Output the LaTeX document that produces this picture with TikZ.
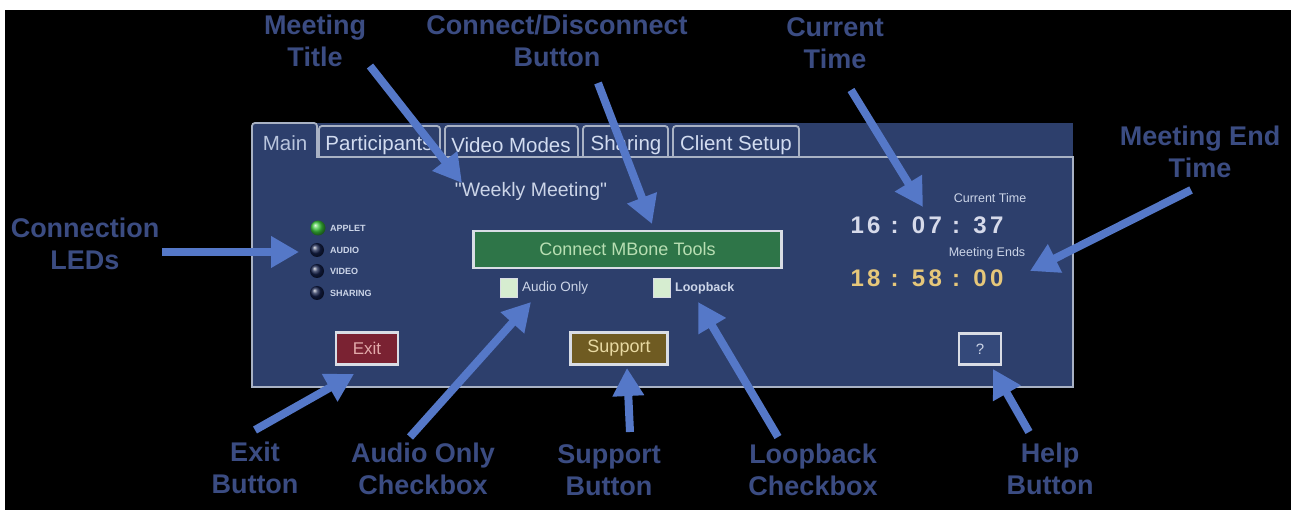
\documentclass[tikz,border=0pt]{standalone}
\usepackage{fontspec}
\setmainfont{Liberation Sans}
\newfontfamily\clockfont[LetterSpace=14]{Liberation Sans}
\newfontfamily\plainfont{Liberation Sans}
\usetikzlibrary{arrows.meta}
\definecolor{panelblue}{HTML}{2D3F6C}
\definecolor{tabgrey}{HTML}{A9B2C4}
\definecolor{tabtxt}{HTML}{D2DCF0}
\definecolor{maintxt}{HTML}{B9C5DD}
\definecolor{lblblue}{HTML}{3B4C82}
\definecolor{arrowblue}{HTML}{5578C8}
\definecolor{btnborder}{HTML}{D9DDE5}
\definecolor{connectgreen}{HTML}{2E7548}
\definecolor{connecttxt}{HTML}{B8DEB2}
\definecolor{exitred}{HTML}{7A2232}
\definecolor{exittxt}{HTML}{E2AAAA}
\definecolor{supportolive}{HTML}{6F5B22}
\definecolor{supporttxt}{HTML}{E8D9A2}
\definecolor{helpblue}{HTML}{34497A}
\definecolor{paneltxt}{HTML}{CCD5E8}
\definecolor{clockwhite}{HTML}{D6DAEA}
\definecolor{clockgold}{HTML}{E6C77A}
\definecolor{checkfill}{HTML}{D6EDD0}
\definecolor{ledgreen}{HTML}{3CC83C}
\definecolor{leddark}{HTML}{14204A}
\tikzset{
  lbl/.style={font=\fontsize{27}{32}\selectfont\bfseries, text=lblblue, align=center, inner sep=0pt},
  callout/.style={draw=arrowblue, line width=8pt, -{Triangle[width=30pt,length=28pt]}},
  tabedge/.style={draw=tabgrey, line width=1.8pt, rounded corners=3pt},
  tabtext/.style={font=\fontsize{20.5}{24}\selectfont, text=tabtxt, inner sep=0pt},
  ledtext/.style={font=\fontsize{9}{10}\selectfont\bfseries, text=paneltxt, inner sep=0pt, anchor=west},
  smalltext/.style={font=\fontsize{12.5}{14}\selectfont, text=paneltxt, inner sep=0pt},
  uibutton/.style={draw=btnborder, line width=2.2pt, inner sep=0pt},
  checkbox/.style={draw=btnborder, line width=1pt, fill=checkfill, minimum width=17pt, minimum height=19pt, inner sep=0pt},
  clock/.style={font=\clockfont\fontsize{24}{26}\selectfont\bfseries, inner sep=0pt}
}
\begin{document}
\begin{tikzpicture}[x=1pt,y=-1pt]
\useasboundingbox (0,0) rectangle (1291,510);
\fill[white] (0,0) rectangle (1291,510);
\fill[black] (5,10) rectangle (1291,510);

% panel
\fill[panelblue] (252,123) rectangle (1073,387);
\draw[draw=tabgrey, line width=1.8pt] (252,387) [rounded corners=3pt] -- (252,123) -- (317,123) [sharp corners] -- (317,157) -- (1073,157) -- (1073,387) -- cycle;
\draw[tabedge] (319,157) -- (319,126) -- (440,126) -- (440,157);
\draw[tabedge] (445,157) -- (445,126) -- (578,126) -- (578,157);
\draw[tabedge] (583,157) -- (583,126) -- (668,126) -- (668,157);
\draw[tabedge] (673,157) -- (673,126) -- (799,126) -- (799,157);

\node[tabtext, text=maintxt] (tabMain) at (285,143) {Main};
\node[tabtext] (tabPart) at (379,145) {Participants};
\node[tabtext] (tabVideo) at (511,145) {Video Modes};
\node[tabtext] (tabShare) at (626,145) {Sharing};
\node[tabtext] (tabClient) at (736,145) {Client Setup};

% meeting title
\node[font=\plainfont\fontsize{19.5}{22}\selectfont, text=paneltxt, inner sep=0pt] (title) at (531,191) {"Weekly Meeting"};

% LEDs
\shade[ball color=ledgreen] (318,228) circle (7.5);
\shade[ball color=leddark] (317,250) circle (7);
\shade[ball color=leddark] (317,271) circle (7);
\shade[ball color=leddark] (317,293) circle (7);
\node[ledtext] (ledApplet) at (330,228) {APPLET};
\node[ledtext] (ledAudio) at (330,250) {AUDIO};
\node[ledtext] (ledVideo) at (330,271) {VIDEO};
\node[ledtext] (ledShare) at (330,293) {SHARING};

% connect button
\node[uibutton, fill=connectgreen, minimum width=308pt, minimum height=37pt, font=\fontsize{18}{20}\selectfont, text=connecttxt] (connect) at (627.5,249.5) {Connect MBone Tools};

% checkboxes
\node[checkbox] (cbAudio) at (509,288) {};
\node[font=\fontsize{13.5}{15}\selectfont, text=paneltxt, inner sep=0pt, anchor=west] (cbAudioTxt) at (522,288) {Audio Only};
\node[checkbox] (cbLoop) at (662,288) {};
\node[font=\fontsize{12.5}{15}\selectfont\bfseries, text=paneltxt, inner sep=0pt, anchor=west] (cbLoopTxt) at (675,288) {Loopback};

% clocks
\node[smalltext] (curLbl) at (990,198) {Current Time};
\node[clock, text=clockwhite] (curClock) at (927,225) {16 : 07 : 37};
\node[smalltext] (endLbl) at (987,253) {Meeting Ends};
\node[clock, text=clockgold] (endClock) at (927,278) {18 : 58 : 00};

% bottom buttons
\node[uibutton, fill=exitred, minimum width=62pt, minimum height=32pt, font=\fontsize{17}{19}\selectfont, text=exittxt] (exit) at (367,348.5) {Exit};
\node[uibutton, fill=supportolive, minimum width=97pt, minimum height=32pt, font=\fontsize{18}{20}\selectfont, text=supporttxt] (support) at (619,348.5) {Support};
\node[uibutton, fill=helpblue, minimum width=42pt, minimum height=31pt, font=\fontsize{15}{17}\selectfont, text=paneltxt] (help) at (980,349) {?};

% callout labels
\node[lbl] (lTitle) at (315,41) {Meeting\\Title};
\node[lbl] (lConnect) at (557,41) {Connect/Disconnect\\Button};
\node[lbl] (lCurrent) at (835,43) {Current\\Time};
\node[lbl] (lEnd) at (1200,152) {Meeting End\\Time};
\node[lbl] (lLeds) at (85,244) {Connection\\LEDs};
\node[lbl] (lExit) at (255,468) {Exit\\Button};
\node[lbl] (lAudio) at (423,469) {Audio Only\\Checkbox};
\node[lbl] (lSupport) at (609,470) {Support\\Button};
\node[lbl] (lLoop) at (813,470) {Loopback\\Checkbox};
\node[lbl] (lHelp) at (1050,469) {Help\\Button};

% arrow ends
\coordinate (aTitleS) at (370,66);   \coordinate (aTitleE) at (462,183);
\coordinate (aConnS) at (598,83);    \coordinate (aConnE) at (652,224);
\coordinate (aCurS) at (851,90);     \coordinate (aCurE) at (923,207);
\coordinate (aEndS) at (1191,190);   \coordinate (aEndE) at (1030,271);
\coordinate (aLedS) at (162,252);    \coordinate (aLedE) at (299,252);
\coordinate (aExitS) at (255,430);   \coordinate (aExitE) at (354,374);
\coordinate (aAudS) at (410,437);    \coordinate (aAudE) at (531,302);
\coordinate (aSupS) at (630,432);    \coordinate (aSupE) at (627,368);
\coordinate (aLoopS) at (778,437);   \coordinate (aLoopE) at (698,302);
\coordinate (aHelpS) at (1029,432);  \coordinate (aHelpE) at (993,369);

\draw[callout] (aTitleS) -- (aTitleE);
\draw[callout] (aConnS) -- (aConnE);
\draw[callout] (aCurS) -- (aCurE);
\draw[callout] (aEndS) -- (aEndE);
\draw[callout] (aLedS) -- (aLedE);
\draw[callout] (aExitS) -- (aExitE);
\draw[callout] (aAudS) -- (aAudE);
\draw[callout] (aSupS) -- (aSupE);
\draw[callout] (aLoopS) -- (aLoopE);
\draw[callout] (aHelpS) -- (aHelpE);
\end{tikzpicture}
\end{document}
